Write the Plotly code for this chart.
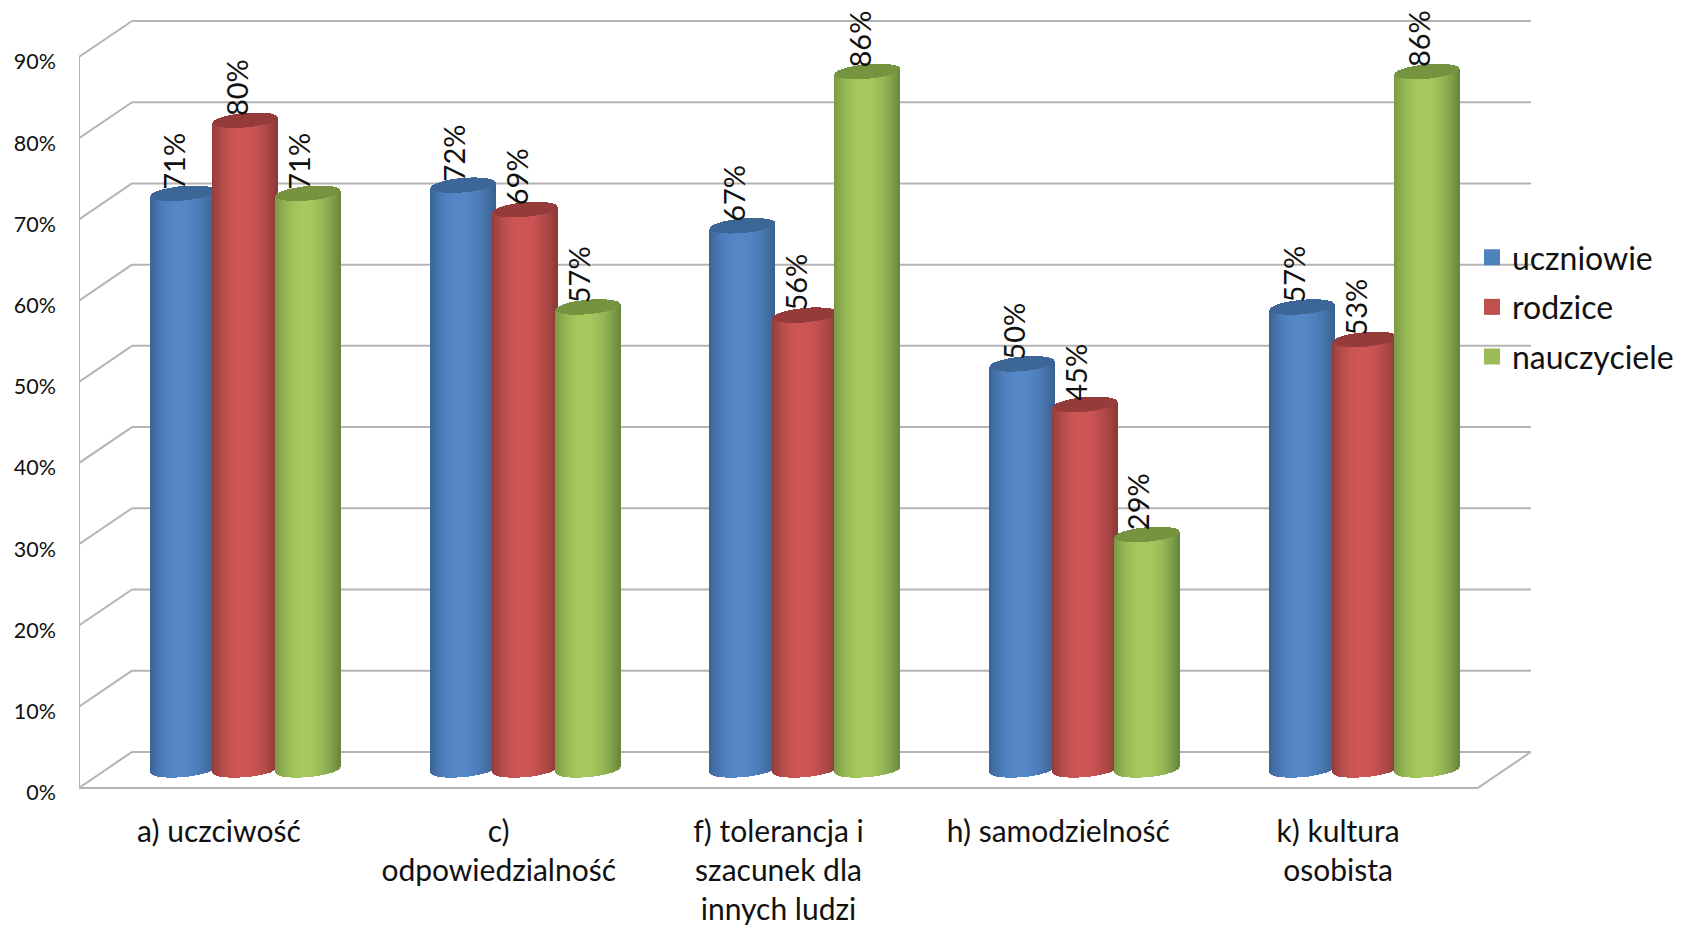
import numpy as np
import plotly.graph_objects as go

categories = ["a) uczciwość", "c)<br>odpowiedzialność", "f) tolerancja i<br>szacunek dla<br>innych ludzi",
              "h) samodzielność", "k) kultura<br>osobista"]
series_names = ["uczniowie", "rodzice", "nauczyciele"]
uczniowie = [71, 72, 67, 50, 57]
rodzice = [80, 69, 56, 45, 53]
nauczyciele = [71, 57, 86, 29, 86]
y_ticks = [0, 10, 20, 30, 40, 50, 60, 70, 80, 90]

W, H = 1682, 927
X0, Y0 = 79, 788            # pixel position of the front corner
PX_X = 279.8                # pixels per category
PX_Y = 8.122                # pixels per percent
DEPTH_X = 53 / PX_X
DEPTH_Y = 36 / PX_Y
PLOT_R = 1531
Y_MIN = -1.0
Y_MAX = Y0 / PX_Y

styles = [
    dict(edgeL=(46, 84, 130), mid=(85, 135, 200), edgeR=(58, 98, 146), top=(60, 102, 150), legend="#4F81BD"),
    dict(edgeL=(120, 50, 48), mid=(206, 86, 85), edgeR=(140, 58, 56), top=(149, 60, 58), legend="#C0504D"),
    dict(edgeL=(100, 130, 55), mid=(166, 201, 95), edgeR=(106, 136, 60), top=(118, 148, 64), legend="#9BBB59"),
]


def shade(u, s):
    t = np.abs(u + 0.1) / 1.1
    t = np.clip(t, 0, 1) ** 2.0
    edge = np.array(s["edgeL"] if u < -0.1 else s["edgeR"])
    c = np.array(s["mid"]) * (1 - t) + edge * t
    return "rgb(%d,%d,%d)" % tuple(c.round().astype(int))


N = 66
A = 32 / PX_X               # cylinder half-width
STEP = 62.5 / PX_X
ELL_B = 7.2 / PX_Y
TILT = 2.8 / PX_Y
us = np.linspace(-1, 1, N)
root = np.sqrt(1 - us ** 2)
strip_w = 2 * A / (N - 1) * 1.05
floor_y = DEPTH_Y / 2

fig = go.Figure()
annotations = []
for si, (name, vals, st) in enumerate(zip(series_names, [uczniowie, rodzice, nauczyciele], styles)):
    side_x, side_base, side_h, side_c = [], [], [], []
    top_x, top_base, top_h = [], [], []
    cols = [shade(u, st) for u in us]
    for ci, v in enumerate(vals):
        cx = ci + 0.5 + DEPTH_X / 2 + (si - 1) * STEP
        low = floor_y + TILT * us - ELL_B * root
        high = v + floor_y + TILT * us
        side_x += list(cx + us * A)
        side_base += list(low)
        side_h += list(high - low)
        side_c += cols
        tl = v + floor_y + TILT * us - ELL_B * root
        th = v + floor_y + TILT * us + ELL_B * root
        top_x += list(cx + us * A)
        top_base += list(tl)
        top_h += list(th - tl)
        annotations.append(dict(
            x=cx - 9 / PX_X, y=v + floor_y + 2 / PX_Y, xref="x", yref="y",
            text=f"{v}%", textangle=-90, showarrow=False, yanchor="bottom", xanchor="center",
            font=dict(family="Lato", size=29, color="#111111")))
    fig.add_trace(go.Bar(x=side_x, y=side_h, base=side_base, width=strip_w, showlegend=False,
                         hoverinfo="skip", marker=dict(color=side_c, line=dict(width=0))))
    fig.add_trace(go.Bar(x=top_x, y=top_h, base=top_base, width=strip_w, showlegend=False,
                         hoverinfo="skip", marker=dict(color="rgb(%d,%d,%d)" % st["top"], line=dict(width=0))))

for si, (name, st) in enumerate(zip(series_names, styles)):
    fig.add_trace(go.Scatter(x=[None], y=[None], mode="markers", name=name, legendgroup=name,
                             marker=dict(symbol="square", size=16, color=st["legend"])))

# 3-D frame behind the cylinders
GRID = "#b4b4b4"
n_cat = len(categories)
shapes = []
def seg(x0, y0, x1, y1):
    shapes.append(dict(type="line", xref="x", yref="y", x0=x0, y0=y0, x1=x1, y1=y1, layer="below",
                       line=dict(color=GRID, width=2)))
for v in y_ticks:
    seg(0, v, DEPTH_X, v + DEPTH_Y)
    seg(DEPTH_X, v + DEPTH_Y, n_cat + DEPTH_X, v + DEPTH_Y)
seg(0, 0, 0, y_ticks[-1])
seg(0, 0, n_cat, 0)
seg(n_cat, 0, n_cat + DEPTH_X, DEPTH_Y)

fig.update_layout(
    width=W, height=H,
    margin=dict(l=X0, r=W - PLOT_R, t=0, b=H - Y0 + Y_MIN * PX_Y, pad=0, autoexpand=False),
    paper_bgcolor="white", plot_bgcolor="rgba(0,0,0,0)",
    barmode="overlay", bargap=0,
    shapes=shapes, annotations=annotations,
    legend=dict(x=(1472 - X0) / (PLOT_R - X0), xanchor="left", y=1 - 230 / (H - (H - Y0 + Y_MIN * PX_Y)),
                yanchor="top", bgcolor="rgba(0,0,0,0)", tracegroupgap=5, itemclick=False,
                font=dict(family="Lato", size=32, color="#111111")),
    xaxis=dict(range=[0, (PLOT_R - X0) / PX_X], showgrid=False, zeroline=False, showline=False,
               automargin=False,
               tickmode="array", tickvals=[i + 0.5 for i in range(n_cat)], ticktext=categories,
               ticks="", ticklabelstandoff=15, tickangle=0,
               tickfont=dict(family="Lato", size=30, color="#111111")),
    yaxis=dict(range=[Y_MIN, Y_MAX], showgrid=False, zeroline=False, showline=False,
               automargin=False,
               tickmode="array", tickvals=[v - 0.6 for v in y_ticks], ticktext=[f"{v}%" for v in y_ticks],
               ticks="", ticklabelstandoff=22,
               tickfont=dict(family="Lato", size=21.5, color="#111111")),
)

fig.write_html("out.html", config=dict(displayModeBar=False),
               post_script="document.body.style.margin='0';document.body.style.overflow='hidden';")
